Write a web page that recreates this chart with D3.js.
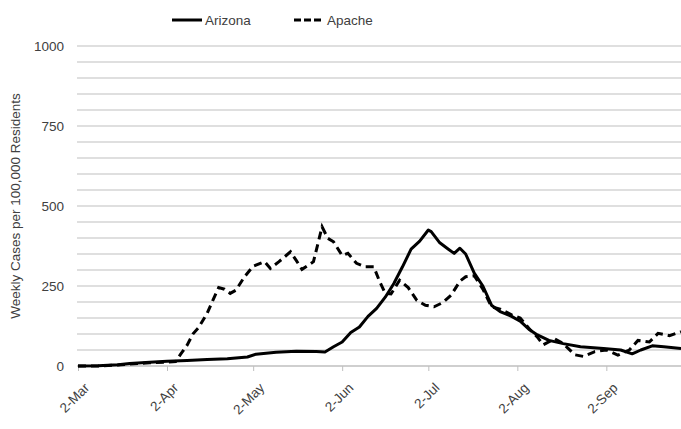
<!DOCTYPE html>
<html>
<head>
<meta charset="utf-8">
<script src="https://cdn.jsdelivr.net/npm/d3@7"></script>
<style>
  body { margin: 0; background: #fff; }
  text { font-family: "Liberation Sans", Arial, sans-serif; fill: #404040; }
</style>
</head>
<body>
<script>
// data (weekly cases per 100,000 residents, 2020)
const azDates = ["3-2","3-9","3-16","3-20","3-27","4-2","4-9","4-16","4-23","4-30","5-3","5-10","5-17","5-24","5-27","5-30",
  "6-2","6-5","6-8","6-11","6-14","6-17","6-20","6-23","6-26","6-29","7-2","7-3","7-6","7-9","7-11","7-13","7-15","7-18",
  "7-21","7-24","7-27","7-31","8-3","8-6","8-9","8-13","8-18","8-24","9-1","9-7","9-11","9-14","9-18","9-22","9-28"];
const azValues = [0,1,4,8,12,15,17,20,23,28,37,43,46,45,44,60,
  75,105,122,155,180,215,258,310,365,390,425,420,385,365,352,368,350,290,
  250,190,170,155,140,115,97,80,70,60,55,50,38,50,63,60,55];

const apDates = ["3-2","3-9","3-16","3-20","3-27","4-2","4-5","4-7","4-9","4-11","4-13","4-16","4-18","4-20","4-22","4-24","4-26","4-29",
  "5-2","5-6","5-8","5-11","5-15","5-17","5-19","5-23","5-26","5-28","5-30","6-2","6-4","6-7","6-10","6-13","6-15","6-17","6-19",
  "6-22","6-25","6-28","7-1","7-4","7-7","7-10","7-13","7-15","7-18","7-21","7-24","7-27","7-31","8-3","8-6","8-9","8-11","8-15",
  "8-18","8-22","8-25","8-29","9-2","9-6","9-10","9-13","9-17","9-20","9-24","9-28"];
const apValues = [0,0,3,6,10,12,14,40,65,100,120,165,206,245,240,227,237,279,
  312,326,305,326,357,330,302,326,435,399,388,345,352,321,310,310,265,227,225,
  268,245,205,190,185,198,222,265,279,282,240,185,178,160,150,118,90,66,85,
  70,35,30,45,50,34,50,80,75,102,95,107];

const tickLabels = ["2-Mar","2-Apr","2-May","2-Jun","2-Jul","2-Aug","2-Sep"];
const yTicks = [0, 250, 500, 750, 1000];

const parse = d3.timeParse("%Y-%m-%d");
const toDate = s => parse("2020-" + s.split("-").map(v => v.padStart(2, "0")).join("-"));
const azData = azDates.map((d, i) => [toDate(d), azValues[i]]);
const apData = apDates.map((d, i) => [toDate(d), apValues[i]]);

const width = 681, height = 429,
      svg = d3.select("body").append("svg").attr("width", width).attr("height", height),
      xScale = d3.scaleTime().domain([toDate("3-2"), toDate("9-28")]).range([78, 681]),
      yScale = d3.scaleLinear().domain([0, 1000]).range([366, 46]);

// gridlines every 50
svg.append("g")
   .selectAll("line")
   .data(d3.range(50, 1001, 50))
   .enter()
   .append("line")
   .attr("x1", 77).attr("x2", width)
   .attr("y1", d => yScale(d)).attr("y2", d => yScale(d))
   .attr("stroke", "#d4d4d4")
   .attr("stroke-width", 1.5);

// y tick labels
svg.append("g")
   .selectAll("text")
   .data(yTicks)
   .enter()
   .append("text")
   .attr("x", 64)
   .attr("y", d => yScale(d) + 4.5)
   .attr("text-anchor", "end")
   .attr("font-size", 13.5)
   .text(d => d);

// x axis
const tickDates = tickLabels.map(t => {
  const m = {Mar: 3, Apr: 4, May: 5, Jun: 6, Jul: 7, Aug: 8, Sep: 9}[t.split("-")[1]];
  return toDate(m + "-2");
});
const xAxis = d3.axisBottom(xScale).tickValues(tickDates).tickSize(5).tickFormat((d, i) => tickLabels[i]);
const gx = svg.append("g").attr("transform", "translate(0,366)").call(xAxis);
gx.select(".domain").attr("stroke", "#bfbfbf").attr("stroke-width", 1.5).attr("d", "M77,0H681");
gx.selectAll(".tick line").attr("stroke", "#bfbfbf");
gx.selectAll(".tick text")
  .attr("font-size", 13.5)
  .attr("font-family", "Liberation Sans, Arial, sans-serif")
  .attr("fill", "#404040")
  .attr("text-anchor", "end")
  .attr("dy", 0)
  .attr("transform", "translate(6,17) rotate(-45)");

// y title
svg.append("text")
   .attr("transform", "translate(20,206) rotate(-90)")
   .attr("text-anchor", "middle")
   .attr("font-size", 13.5)
   .text("Weekly Cases per 100,000 Residents");

// lines
const line = d3.line().x(d => xScale(d[0])).y(d => yScale(d[1])).curve(d3.curveLinear);
svg.append("path").datum(apData)
   .attr("d", line).attr("fill", "none").attr("stroke", "#000")
   .attr("stroke-width", 3).attr("stroke-dasharray", "8,5");
svg.append("path").datum(azData)
   .attr("d", line).attr("fill", "none").attr("stroke", "#000")
   .attr("stroke-width", 3).attr("stroke-linejoin", "round");

// legend
const legend = svg.append("g");
legend.append("line").attr("x1", 172).attr("x2", 202).attr("y1", 20).attr("y2", 20)
      .attr("stroke", "#000").attr("stroke-width", 3);
legend.append("text").attr("x", 205).attr("y", 25).attr("font-size", 13.5).text("Arizona");
legend.append("line").attr("x1", 294).attr("x2", 324).attr("y1", 20).attr("y2", 20)
      .attr("stroke", "#000").attr("stroke-width", 3).attr("stroke-dasharray", "7,3");
legend.append("text").attr("x", 327).attr("y", 25).attr("font-size", 13.5).text("Apache");
</script>
</body>
</html>
